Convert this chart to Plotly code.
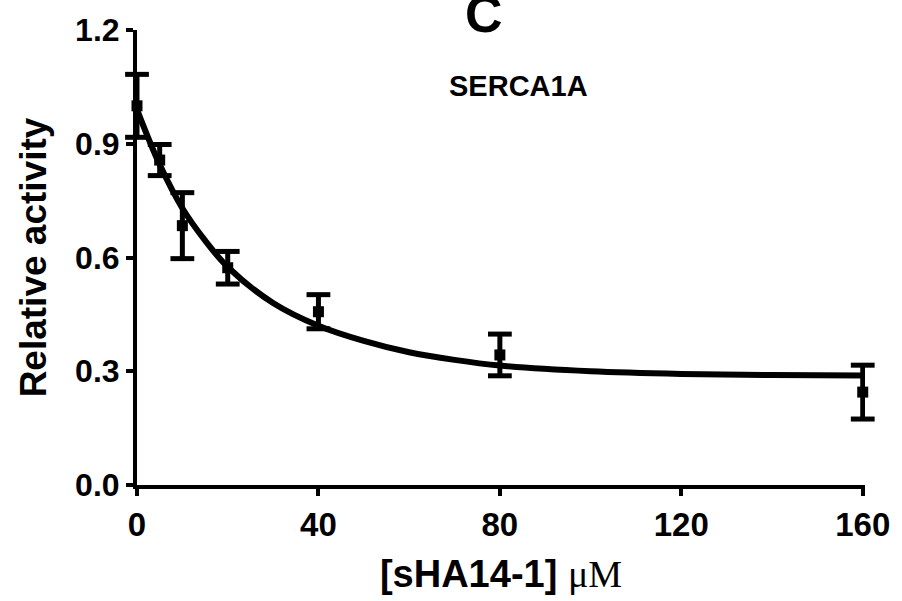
import plotly.graph_objects as go

# Measured data (mean ± error)
conc = [0, 5, 10, 20, 40, 80, 160]
activity = [1.0, 0.857, 0.684, 0.573, 0.457, 0.343, 0.245]
err = [0.083, 0.041, 0.087, 0.043, 0.045, 0.055, 0.071]

# Fitted curve
fit_x = [0, 5, 10, 15, 20, 30, 40, 50, 60, 70, 80, 100, 120, 140, 160]
fit_y = [0.99, 0.845, 0.73, 0.645, 0.575, 0.48, 0.42, 0.38, 0.35, 0.33, 0.315, 0.30, 0.293, 0.29, 0.289]

x_ticks = [0, 40, 80, 120, 160]
y_ticks = [0.0, 0.3, 0.6, 0.9, 1.2]
y_tick_labels = ["0.0", "0.3", "0.6", "0.9", "1.2"]

cap_x = conc + conc
cap_y = [a + e for a, e in zip(activity, err)] + [a - e for a, e in zip(activity, err)]

fig = go.Figure()
fig.add_trace(go.Scatter(
    x=fit_x, y=fit_y, mode="lines", line=dict(color="black", width=6, shape="spline"),
    hoverinfo="skip", showlegend=False))
fig.add_trace(go.Scatter(
    x=conc, y=activity, mode="markers",
    marker=dict(symbol="square", size=11, color="black"),
    error_y=dict(type="data", array=err, visible=True, color="black", thickness=5, width=0),
    cliponaxis=False, showlegend=False))
fig.add_trace(go.Scatter(
    x=cap_x, y=cap_y, mode="markers",
    marker=dict(symbol="line-ew", size=17, color="black", line=dict(color="black", width=5)),
    cliponaxis=False, hoverinfo="skip", showlegend=False))

font_main = "Liberation Sans, Arial, sans-serif"
fig.update_layout(
    width=902, height=601,
    margin=dict(l=137, r=32, t=25, b=111),
    paper_bgcolor="white", plot_bgcolor="white",
    font=dict(family=font_main, color="black"),
    xaxis=dict(
        range=[0, 160.5], tickvals=x_ticks, ticktext=[f"<b>{v}</b>" for v in x_ticks],
        showline=True, linecolor="black", linewidth=4, ticks="outside", ticklen=7,
        tickwidth=4, tickcolor="black", showgrid=False, zeroline=False,
        tickfont=dict(size=33, family=font_main),
        title=dict(text="<b>[sHA14-1]</b> <span style='font-family:Liberation Serif'>μM</span>",
                   font=dict(size=38, family=font_main), standoff=20),
    ),
    yaxis=dict(
        range=[0, 1.2], tickvals=y_ticks, ticktext=[f"<b>{t}</b>" for t in y_tick_labels],
        showline=True, linecolor="black", linewidth=4, ticks="outside", ticklen=7,
        tickwidth=4, tickcolor="black", showgrid=False, zeroline=False,
        tickfont=dict(size=32, family=font_main),
        title=dict(text="<b>Relative activity</b>", font=dict(size=37, family=font_main), standoff=18),
    ),
    annotations=[
        dict(text="<b>SERCA1A</b>", x=0.524, y=0.876, xref="paper", yref="paper",
             showarrow=False, font=dict(size=29, family=font_main), xanchor="center", yanchor="middle"),
        dict(text="<b>C</b>", x=0.477, y=1.035, xref="paper", yref="paper",
             showarrow=False, font=dict(size=52, family=font_main), xanchor="center", yanchor="middle"),
    ],
)
fig.write_html("out.html")
